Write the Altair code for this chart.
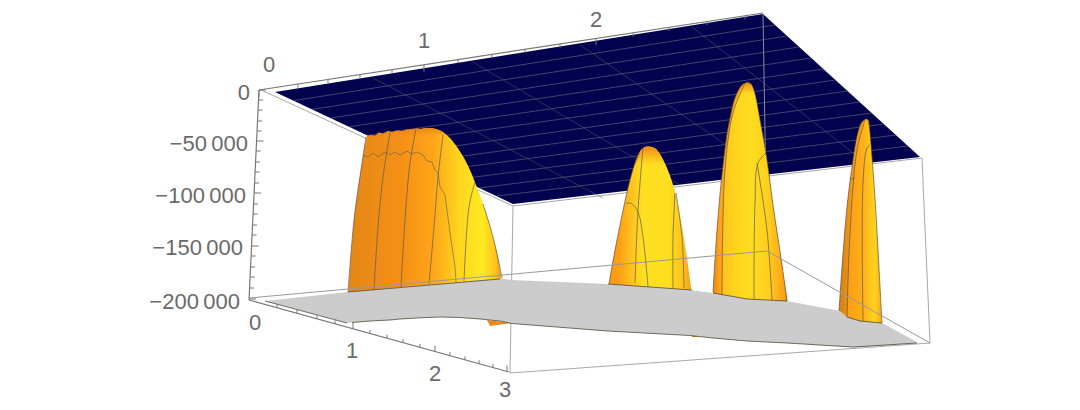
import altair as alt
import pandas as pd

alt.data_transformers.disable_max_rows()

# ---------- values (projected 3D surface, screen units) ----------
plate_x = [275, 513, 763, 920]
plate_top = [92, 54, 14, 157]
plate_bot = [92, 204, 175, 157]

long_a_x = [293.5, 312, 330.6, 349, 367.7, 386, 405, 423, 442, 460, 479, 497]
long_a_y = [100.7, 109.4, 118, 126.8, 135.5, 144, 153, 161.5, 170, 179, 188, 196]
long_b_x = [775, 787, 799, 811, 823.4, 835.5, 847.5, 860, 872, 884, 896, 908]
long_b_y = [25, 36, 47, 58, 69, 80, 91, 102, 113, 124, 135, 146]

cross_lines = [
    ([373, 603], [78, 198]),
    ([473, 680], [62, 185]),
    ([580, 770], [45, 175]),
    ([692, 866], [27, 163]),
]

hump1_x = [348, 351, 354, 358, 362, 366, 367, 371, 375, 379, 383, 388, 392, 397, 402, 407, 413, 417, 421, 425, 430, 436, 443, 450, 457, 464, 470, 476, 482, 488, 493, 498, 502]
hump1_y = [296, 255, 220, 190, 163, 140, 136, 135, 135.5, 132.5, 133.5, 131, 132, 130.5, 131, 129.5, 129, 128.5, 129, 128, 128, 129, 132, 138, 147, 158, 170, 185, 201, 219, 237, 257, 282]
hump2_x = [607, 609, 613, 620, 627, 633, 638, 642, 645, 649, 652, 656, 660, 667, 675, 682, 688, 692]
hump2_y = [296, 283, 260, 225, 192, 169, 155, 149, 147, 146.5, 147, 149, 154, 168, 192, 227, 265, 296]
hump3_x = [712, 713, 717, 720, 723, 726, 730, 733, 737, 741, 745, 748, 751, 755, 760, 767, 773, 782, 788]
hump3_y = [306, 292, 230, 195, 165, 140, 118, 104, 93, 86, 83, 82.5, 84, 94, 120, 160, 205, 265, 306]
hump3b_x = [722, 723, 725, 729, 733, 739, 745, 748, 751, 755, 760, 767, 773, 782, 788]
hump3b_y = [306, 230, 170, 135, 113, 95, 84, 82.5, 84, 94, 120, 160, 205, 265, 306]
hump4a_x = [838, 839, 842, 847, 852, 857, 860, 863, 866, 869, 872]
hump4a_y = [326, 311, 267, 207, 167, 136, 125, 121, 119, 121, 326]
hump4b_x = [847, 850, 853, 857, 861, 865, 867, 869, 872, 875, 878, 882]
hump4b_y = [326, 233, 190, 150, 130, 120, 119, 125, 157, 198, 250, 326]
shard_x = [487, 490, 512]
shard_top = [320, 320.5, 323]
shard_bot = [320, 326, 323]
shard2_x = [692, 697]
shard2_top = [335, 335.5]
shard2_bot = [337, 337]
shard3_x = [839, 846]
shard3_top = [313, 313]
shard3_bot = [315, 317]

floor_x = [265, 348, 352, 370, 390, 400, 420, 440, 460, 480, 500, 512, 608, 690, 713, 747, 787, 840, 847, 860, 882, 917]
floor_top = [301, 292, 291.5, 290, 288, 287, 285.5, 284, 282, 280, 278.5, 280, 284, 290, 293, 299, 301, 311, 317, 321, 323, 342]
floor_bot = [301, 323, 322.5, 321, 320, 319, 317.8, 317, 317.5, 319, 321, 323.5, 331, 335.5, 338, 341, 343, 346.5, 347, 347.5, 346, 343]

mesh_smooth = [
    ([390, 383, 378, 374], [133, 177, 227, 290]),
    ([416, 410, 405, 401], [129, 163, 220, 287]),
    ([443, 438, 434, 429], [135, 177, 227, 284]),
    ([475, 469, 464], [182, 207, 281]),
    ([643, 638, 635], [148, 210, 283]),
    ([626, 632, 638, 643, 648], [203, 204, 212, 237, 287]),
    ([675, 673, 673], [193, 237, 288]),
    ([676, 682, 684], [193, 237, 288]),
    ([745, 733, 725, 722], [83, 113, 170, 295]),
    ([766, 758, 755, 754], [153, 163, 203, 299]),
    ([757, 767, 772], [163, 230, 300]),
    ([865, 857, 850, 847], [120, 150, 233, 317]),
    ([870, 867, 863, 863], [145, 148, 183, 321]),
    ([850, 855], [179, 178]),
]
mesh_zigzag = [
    ([363, 368, 373, 378, 385, 390, 395, 400, 407, 412, 417, 423, 427, 432, 435, 438, 440, 445, 450, 455, 456],
     [155, 157, 153, 157, 152, 155, 152, 155, 151, 154, 152, 155, 161, 162, 170, 173, 187, 195, 233, 267, 282]),
]
outline_curves = [
    ([348, 354, 362, 366], [292, 220, 163, 137]),
    ([483, 493, 502], [204, 237, 278]),
    ([609, 620, 633, 640], [284, 225, 169, 152]),
    ([713, 717, 723, 730, 737, 745, 751, 755, 760, 767, 773, 782, 787], [292, 230, 165, 118, 93, 83, 84, 94, 120, 160, 205, 265, 301]),
    ([839, 842, 847, 852, 857, 863, 867, 869, 872, 875, 878, 882], [311, 267, 207, 167, 136, 121, 119, 125, 157, 198, 250, 323]),
]
outline_lines = [
    ([348, 500], [292, 279]),
    ([608, 692], [284, 290]),
    ([713, 747, 787], [293, 299, 301]),
    ([847, 860, 882], [317, 321, 323]),
    ([265, 347], [301, 323]),
    ([352, 370, 390, 400, 420, 440, 460, 480, 500, 512], [322.5, 321, 320, 319, 317.8, 317, 317.5, 319, 321, 323.5]),
    ([512, 608, 690, 713, 747, 787, 853, 917], [323.5, 331, 335.5, 338, 341, 343, 347, 343]),
]

box_back = [
    ([259, 513, 922, 930, 510], [89, 206, 158, 343, 373]),
    ([513, 510], [206, 373]),
    ([763, 767], [14, 251]),
]
box_front = [
    ([249, 767, 930], [298, 251, 343]),
]
axis_lines = [
    ([259, 763], [90, 13]),
    ([259, 249], [90, 300]),
    ([249, 509], [300, 372]),
]

top_ticks = [259, 298, 328, 360, 392, 424, 458, 492, 525, 560, 596, 633, 669, 707, 745]
top_major = [259, 424, 596]
side_ticks = [90, 100, 110, 121, 131, 141, 151, 162, 172, 183, 193, 204, 214, 225, 235, 246, 256, 267, 277, 288, 299]
side_major = [90, 141, 193, 246, 299]
base_ticks = [277, 297, 317, 335, 353, 370, 387, 403, 420, 435, 450, 465, 479, 493, 507]
base_major = [353, 435, 507]

labels = ["0", "1", "2", "0", "\u221250\u2009000", "\u2212100\u2009000", "\u2212150\u2009000", "\u2212200\u2009000", "0", "1", "2", "3"]
label_x = [269, 424, 596, 250, 248, 246, 243, 240, 255, 352, 435, 505]
label_y = [65, 41, 20, 93, 144, 196, 248, 302, 323, 351, 374, 390]
label_align = ["center", "center", "center", "right", "right", "right", "right", "right", "center", "center", "center", "center"]

# ---------- helpers ----------
sx = alt.Scale(domain=[8, 1072], range=[0, 1064])
sy = alt.Scale(domain=[8, 402], range=[0, 394])
X = alt.X("x:Q", scale=sx, axis=None)
Y = alt.Y("y:Q", scale=sy, axis=None)


def grad(stops, vertical=False):
    st = [alt.GradientStop(color=c, offset=o) for o, c in stops]
    if vertical:
        return alt.Gradient(gradient="linear", stops=st, x1=0, x2=0, y1=0, y2=1)
    return alt.Gradient(gradient="linear", stops=st, x1=0, x2=1, y1=0, y2=0)


def area(xs, top, bot, fill, curve="linear"):
    if not isinstance(bot, list):
        bot = [bot] * len(xs)
    df = pd.DataFrame({"x": xs, "y": top, "y2": bot})
    return alt.Chart(df).mark_area(color=fill, orient="vertical", strokeWidth=0, interpolate=curve).encode(X, Y, y2="y2:Q")


def lines(items, color, width=1.0, opacity=1.0, curve="linear"):
    rows = []
    for i, (xs, ys) in enumerate(items):
        for j, (a, b) in enumerate(zip(xs, ys)):
            rows.append({"id": i, "seq": j, "x": a, "y": b})
    return alt.Chart(pd.DataFrame(rows)).mark_line(color=color, strokeWidth=width, opacity=opacity, interpolate=curve).encode(
        X, Y, detail="id:N", order="seq:Q")


def ticks():
    rows = []
    for x in top_ticks:
        y = 90 - (x - 259) * 77 / 504
        rows.append((x, y, x, y + (7 if x in top_major else 3.5)))
    for y in side_ticks:
        x = 259 - (y - 90) * 10 / 210
        rows.append((x, y, x + (7 if y in side_major else 4.5), y))
    for x in base_ticks:
        y = 300 + (x - 249) * 72 / 260
        rows.append((x, y, x, y - (6 if x in base_major else 3.5)))
    df = pd.DataFrame(rows, columns=["x", "y", "x2", "y2"])
    return alt.Chart(df).mark_rule(color="#777777", strokeWidth=1).encode(X, Y, x2="x2:Q", y2="y2:Q")


def text_layer():
    out = []
    for al in ["center", "right"]:
        df = pd.DataFrame({"x": label_x, "y": label_y, "t": labels, "a": label_align})
        df = df[df.a == al]
        out.append(alt.Chart(df).mark_text(align=al, baseline="middle", font="Liberation Sans",
                                           fontSize=22, color="#6a6a6a").encode(X, Y, text="t:N"))
    return out


long_lines = [([a, b], [c, d]) for a, b, c, d in zip(long_a_x, long_b_x, long_a_y, long_b_y)]
M = "monotone"

layers = [
    lines(box_back, "#a8a8a8"),
    area(plate_x, plate_top, plate_bot, "#02024f"),
    lines(long_lines, "#6e6e80", 1.0, 0.6),
    lines(cross_lines, "#55556a", 1.0, 0.55),
    lines([box_back[2]], "#8a8a9a"),
    area(hump1_x, hump1_y, 296, grad([(0, "#E48716"), (0.35, "#F59015"), (0.55, "#FFA518"), (0.72, "#FFD51E"), (0.87, "#FFEA22"), (0.95, "#FFC81C"), (1, "#F59A18")]), M),
    area(hump1_x, hump1_y, 296, grad([(0, "rgba(225,130,20,0.75)"), (0.05, "rgba(225,130,20,0)"), (1, "rgba(225,130,20,0)")], vertical=True), M),
    area(hump2_x, hump2_y, 296, grad([(0, "#FF9A14"), (0.13, "#FF9C15"), (0.28, "#FFC01C"), (0.42, "#FFDF20"), (0.72, "#FFDF20"), (0.9, "#FFC21C"), (1, "#F59A18")]), M),
    area(hump2_x, hump2_y, 296, grad([(0, "rgba(240,130,20,0.9)"), (0.12, "rgba(240,130,20,0)"), (1, "rgba(240,130,20,0)")], vertical=True), M),
    area(hump3_x, hump3_y, 306, grad([(0, "#DE8216"), (0.1, "#FFA514"), (1, "#FFA514")]), M),
    area(hump3b_x, hump3b_y, 306, grad([(0, "#FFC21A"), (0.2, "#FFD41E"), (0.45, "#FFDC20"), (0.7, "#FFCE1E"), (0.86, "#FFB01A"), (0.95, "#FF9C15"), (1, "#E07F18")]), M),
    area(hump3b_x, hump3b_y, 306, grad([(0, "rgba(230,125,20,0.8)"), (0.05, "rgba(230,125,20,0)"), (1, "rgba(230,125,20,0)")], vertical=True), M),
    area(hump4a_x, hump4a_y, 326, grad([(0, "#CE7C14"), (0.4, "#F59A14"), (1, "#FFA818")]), M),
    area(hump4b_x, hump4b_y, 326, grad([(0, "#FF9C14"), (0.45, "#FFAE18"), (0.8, "#FFD41E"), (1, "#FFA015")]), M),
    area(shard_x, shard_top, shard_bot, "#F08A10"),
    area(shard2_x, shard2_top, shard2_bot, "#E0820F"),
    area(shard3_x, shard3_top, shard3_bot, "#F09012"),
    area(floor_x, floor_top, floor_bot, "#CCCCCC"),
    lines(mesh_smooth, "#5a5a50", 1.0, 0.7, "catmull-rom"),
    lines(mesh_zigzag, "#5a5a50", 0.8, 0.75),
    lines(outline_curves, "#4a4030", 1.0, 0.6, "catmull-rom"),
    lines(outline_lines, "#4a4030", 1.0, 0.75),
    lines(box_front, "#999999"),
    lines(axis_lines, "#777777", 1.2),
    ticks(),
] + text_layer()

chart = alt.layer(*layers).properties(
    width=1064, height=394, padding=0, autosize=alt.AutoSizeParams(type="none"), background="white"
).configure_view(stroke=None)

chart.save("out.html", embed_options={"renderer": "svg", "actions": False})
